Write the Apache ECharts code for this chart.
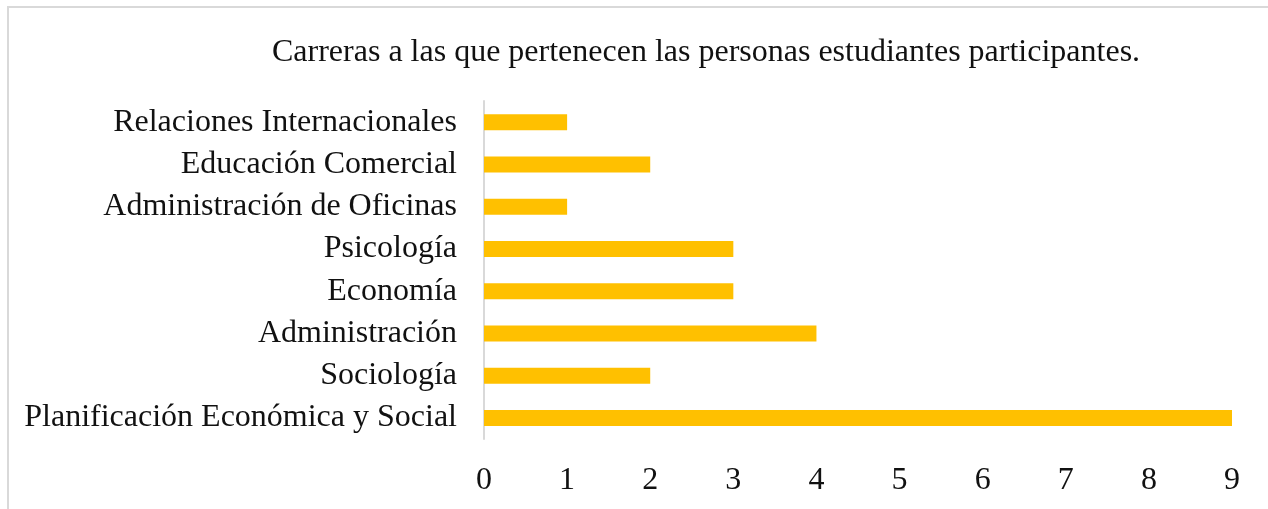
<!DOCTYPE html>
<html>
<head>
<meta charset="utf-8">
<script src="https://cdn.jsdelivr.net/npm/echarts@6/dist/echarts.min.js"></script>
<style>
  html, body { margin: 0; padding: 0; background: #fff; }
  #chart { width: 1268px; height: 509px; }
</style>
</head>
<body>
<div id="chart"></div>
<script>
// carreras, de abajo hacia arriba
var carreras = [
    'Planificación Económica y Social',
    'Sociología',
    'Administración',
    'Economía',
    'Psicología',
    'Administración de Oficinas',
    'Educación Comercial',
    'Relaciones Internacionales'
];
var personas = [9, 2, 4, 3, 3, 1, 2, 1];
var titulo = 'Carreras a las que pertenecen las personas estudiantes participantes.';

var fuente = "'Liberation Serif', 'Times New Roman', serif";

var myChart = echarts.init(document.getElementById('chart'));
var option = {
    backgroundColor: '#fff',
    animation: false,
    title: {
        text: titulo,
        left: 267,
        top: 32,
        textStyle: {
            fontFamily: fuente,
            fontSize: 32,
            fontWeight: 'normal',
            color: '#111'
        }
    },
    graphic: [
        {
            type: 'polyline',
            shape: { points: [[8, 509], [8, 7], [1268, 7]] },
            style: { stroke: '#d9d9d9', lineWidth: 2, fill: null }
        }
    ],
    grid: {
        left: 484,
        right: 36,
        top: 101,
        bottom: 70
    },
    xAxis: {
        type: 'value',
        min: 0,
        max: 9,
        interval: 1,
        axisLine: { show: false },
        axisTick: { show: false },
        splitLine: { show: false },
        axisLabel: {
            margin: 26,
            fontFamily: fuente,
            fontSize: 32,
            color: '#111'
        }
    },
    yAxis: {
        type: 'category',
        data: carreras,
        axisLine: { show: true, lineStyle: { color: '#d9d9d9', width: 2 } },
        axisTick: { show: false },
        axisLabel: {
            margin: 27,
            fontFamily: fuente,
            fontSize: 32,
            color: '#111'
        }
    },
    series: [
        {
            name: 'personas',
            type: 'bar',
            data: personas,
            barWidth: 16,
            itemStyle: { color: '#FFC000' }
        }
    ]
};
myChart.setOption(option);
</script>
</body>
</html>
